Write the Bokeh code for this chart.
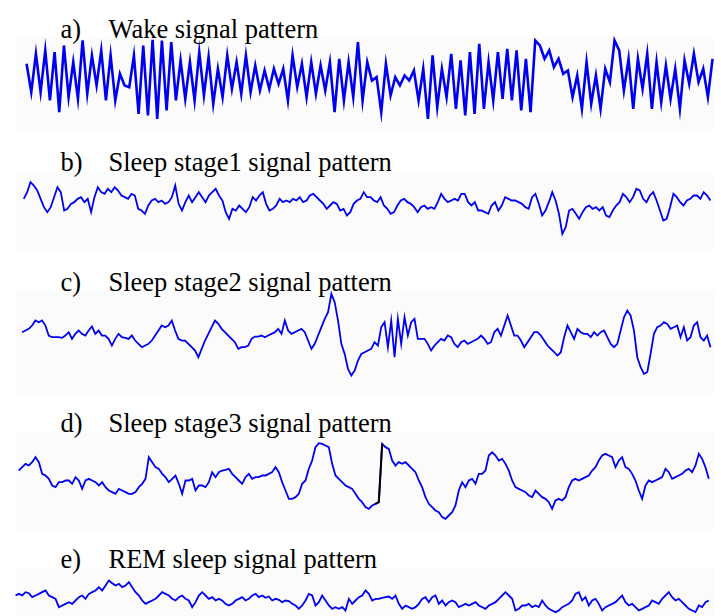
import numpy as np
from bokeh.plotting import figure
from bokeh.models import Range1d
from bokeh.core.properties import value
from bokeh.embed import file_html
from bokeh.resources import INLINE

# ---------------- data (amplitudes, arbitrary uV units) -------------
LETTERS = ["a)", "b)", "c)", "d)", "e)"]
TITLES = ["Wake signal pattern", "Sleep stage1 signal pattern", "Sleep stage2 signal pattern",
          "Sleep stage3 signal pattern", "REM sleep signal pattern"]

# epoch time (s) of first and last sample shown for each trace
T_START = [0.77, 0.65, 0.58, 0.44, 0.30]
T_END = [29.96, 29.87, 29.87, 29.80, 29.80]

WAKE = [45, -40, 75, -40, 85, -65, 80, -100, 100, -55,
        50, -60, 115, -45, 70, -20, 85, -65, 70, -65,
        15, -20, -25, 70, -105, 100, -110, 117, -120, 115,
        -95, 110, -65, 55, -60, 50, -65, 80, -50, 65,
        -75, 30, -55, 70, -30, 50, -45, 70, -40, 40,
        -35, 25, -30, 30, -15, 30, -65, 70, -25, 45,
        -55, 50, -45, 40, -35, 50, -100, 60, -65, 50,
        -55,
        110, -65, 50, -5, 5, -100, 45, -50, 5, -20,
        10, -5, 25, -65, 30, -120, 70, -85, 30, -55,
        75, -90, 55, -110, 80, -105, 105, -90, 50, -65,
        80, -60, 90, -65, 85, -95, 60, -100, 115, 100,
        60, 85, 35, 60, 15, 25, -55, 10, -90, 50,
        -75, 10, -90, 30, -10, 115, 85, -35, 60, -90,
        60, -30, 75, -90, 50, -70, 40, -60, 30, -90,
        55, -15, 75, -10, 30, -55, 60]

STAGE1 = [5, 25, 55, 45, 30, 5, -20, -35, -20, 10,
          40, 25, -30, -25, -10, -5, 5, 10, -5, 5,
          -35, 10, 40, 25, 20, 35, 25, 40, 30, 15,
          10, 5, 20, 15, -25, -30, -40, -15, 0, 5,
          -5, 0, -10, -5, 10, 45, -10, -30, -5, 15,
          -5, 10, 25, 10, -5, 15, 25, 35, 15, 0,
          -35, -55, -25, -30, -15, -25, -35, -20, 10, 0,
          15, 25, -10, -30, -25, -15, 5, -5, 0, -5,
          5, 0, 10, -5, 0, 15, 20, 10, 0, -10,
          -25, -15, -5, -10, -30, -25, -45, -35, -10, 0,
          5,
          25, 10, 10, 0, -5, 10, -15, -25, -40, -35,
          -15, 0, 5, -5, -10, -20, -35, -20, -15, -25,
          -20, -25, -5, 20, 5, -5, 0, 5, 0, 20,
          20, -5, -15, -5, -30, -30, -35, -40, -15, -5,
          -30, -15, 10, 5, 0, 0, -5, -10, -20, -25,
          10, 20, -10, -45, -30, -5, 25, 0, -40, -100,
          -80, -30, -25, -40, -55, -35, -20, -15, -25, -20,
          -30, -20, -45, -50, -30, -15, -5, 20, 10, -5,
          10, 35, 30, 5, -5, 15, 25, 0, -30, -60,
          -55, -20, 20, 10, -5, -15, 0, 5, 15, 15,
          5, 25, 15, 0]

STAGE2 = [15, 20, 25, 35, 50, 45, 50, 35, 5, 0,
          0, 0, -2, 5, 15, -5, 10, 20, 10, 5,
          20, 32, 10, 20, 5, 5, -5, -25, -5, 10,
          0, -2, -5, 5, -10, -20, -30, -25, -20, -10,
          5, 20, 35, 30, 35, 50, 20, -5, -10, -10,
          -20, -30, -40, -60, -35, -10, 10, 30, 50, 40,
          25, 15, 5, -5, -15, -35, -30, -30, -25, -5,
          2, 2, 5, 0, 5, 10, 15, 25, 10, 50,
          20, 10, 15, 20, 25, 15, -10, -35, -20, 5,
          30, 55, 75, 130, 105, 50, -20, -50, -95, -115,
          -100, -70, -50, -45, -40, -35, -15, -25, 30, 45, -30,
          50, -60, 55, -20, 60, 5, 45, 55, -5, -5,
          -5, -20, -40, -25, -15, -5, -10, 5, 0, -20,
          -30, -15, -10, -20, -15, -10, -5, 5, -5, -20,
          -15, 15, 25, 5, 35, 65, 35, 5, 5, -10,
          -30, -15, 0, 15, 15, 5, -10, -25, -35, -45,
          -55, -45, 0, 35, 15, -5, 25, 15, 10, 10,
          0, 15, 5, 15, 20, 0, -20, -30, -20, 20,
          60, 80, 65, 20, -60, -90, -110, -105, -50, 10,
          30, 35, 45, 40, 25, 30, 35, 0, 30, -10,
          0, 35, 45, 0, -10, 5, -30]

STAGE3 = [30, 40, 50, 45, 55, 70, 55, 20, 15, 5,
          -15, -20, -5, -5, 0, 0, -10, 10, 0, -25,
          0, 5, 0, -5, -15, -5, -20, -30, -35, -40,
          -25, -30, -35, -40, -40, -35, -20, -10, 5, 70,
          55, 40, 35, 20, 10, -5, 5, 15, -10, -40,
          0, 0, 5, -30, -15, -15, -20, -5, 25, 10,
          25, 30, 32, 35, 20, 10, 0, -10, 10, 20,
          5, 10, 10, 15, 15, 20, 25, 40, 25, -5,
          -30, -55, -55, -50, -40, -10, 0, 35, 60, 100,
          112, 110, 105, 100, 50, 15, 5, -5, -15, -20,
          -25,
          -40, -55, -65, -80, -85, -75, -70, -65, 110, 100,
          95, 60, 45, 55, 50, 55, 45, 35, 25, 0,
          -20, -50, -70, -80, -90, -95, -110, -115, -105, -95,
          -75, -30, -5, -20, 0, 5, -10, 20, 20, 30,
          75, 85, 75, 60, 65, 50, 30, 0, -20, -25,
          -30, -35, -45, -50, -30, -40, -50, -55, -65, -85,
          -60, -55, -60, -50, -20, 0, 5, 0, 5, 10,
          15, 30, 40, 60, 75, 80, 75, 70, 40, 60,
          70, 40, 35, 20, 0, -30, -55, -15, 0, -5,
          0, 5, 10, 35, 25, 5, 10, 15, 20, 30,
          35, 25, 45, 80, 65, 40, 5]
# samples of STAGE3 drawn in black in the source (pen artefact)
STAGE3_BLACK = (107, 110)

REM = [15, 20, 15, 25, 22, 10, 15, 20, 25, 30,
       15, 10, 5, -20, -15, -10, -5, -10, 0, 10,
       15, 5, 20, 25, 30, 40, 30, 45, 60, 52,
       45, 50, 40, 45, 55, 40, 25, 15, 0, -10,
       -5, 0, 5, 15, 25, 20, 15, 5, 0, 10,
       15, 5, 0, -20, -5, 15, 25, 15, 5, 10,
       0, 5, 0, -10, -15, -10, 0, 5, 10, 0,
       5, 15, 20, 10, 15, 8, 12, 0, 5, 2,
       -5, 0, -2, -10, -15, -25, -15, 0, 20, 15,
       -15, -5, 15, 0, -15, -25, -20, -25, -20, -30,
       5, -10,
       0, 10, 15, 30, 20, 0, 5, 5, 8, 10,
       12, 5, 15, -10, -25, -15, -20, -25, -20, -10,
       5, 10, -5, 10, 15, -10, 0, -15, -5, 0,
       -5, -20, -15, -10, -15, -10, -5, -15, -20, -25,
       -15, -10, -5, 5, 15, 25, 15, 5, -30, -25,
       -15, -15, -10, -20, -15, -20, 0, -15, -25, -30,
       -35, -30, -20, -15, -10, 0, 20, 25, 0, 10,
       -15, 0, 5, -10, -30, -20, -15, -10, -5, 5,
       15, -5, -15, -10, -20, -30, -25, -20, -15, 0,
       -5, -10, 5, 15, 25, 10, 0, 5, -5, -15,
       -25, -30, -35, -15, -20, -5, 0]

TRACES = [WAKE, STAGE1, STAGE2, STAGE3, REM]

# ---------------- layout / style ----------------
W, H = 721, 616
CENTER_Y = [78.3, 200.0, 336.7, 480.0, 600.0]      # page y of each trace's zero line
UV_PER_PX = 3.0
LABEL_BASE_Y = [28.3, 161.5, 281.7, 422.7, 558.5]
LETTER_X, TITLE_X = 60, 108
BG = [(15, 713, 37, 130), (15, 713, 171, 250), (15, 713, 290, 393),
      (15, 713, 432, 530), (15, 713, 568, 616)]
BLUE = "#0000f0"
SERIF = value("Liberation Serif")
PX_TO_T = 30.0 / 705.0     # epoch seconds per page pixel (page x 8 -> 0 s)

p = figure(width=W, height=H, output_backend="svg", toolbar_location=None,
           x_range=Range1d(0, W), y_range=Range1d(H, 0),
           x_axis_type=None, y_axis_type=None, min_border=0,
           outline_line_color=None, background_fill_color="white",
           border_fill_color="white")
p.extra_x_ranges = {"t": Range1d(-8 * PX_TO_T, (W - 8) * PX_TO_T)}

# faint panel backgrounds
for (l, r, t, b) in BG:
    p.quad(left=l, right=r, top=t, bottom=b, fill_color="#fbfbfb", line_color=None)

for i, vals in enumerate(TRACES):
    name = f"amp{i}"
    yc = CENTER_Y[i]
    p.extra_y_ranges[name] = Range1d(-(H - yc) * UV_PER_PX, yc * UV_PER_PX)
    arr = np.asarray(vals, dtype=float)
    t = np.linspace(T_START[i], T_END[i], len(arr))
    p.line(t, arr, x_range_name="t", y_range_name=name, line_color=BLUE,
           line_width=2.6 if i == 0 else 1.8, line_join="miter")
    if i == 3:
        a, b = STAGE3_BLACK
        p.line(t[a:b], arr[a:b], x_range_name="t", y_range_name=name,
               line_color="black", line_width=2)

p.text(x=[LETTER_X] * 5, y=LABEL_BASE_Y, text=LETTERS, text_font=SERIF,
       text_font_size="26.5px", text_baseline="alphabetic", text_color="black")
p.text(x=[TITLE_X] * 5, y=LABEL_BASE_Y, text=TITLES, text_font=SERIF,
       text_font_size="26.5px", text_baseline="alphabetic", text_color="black")

open("out.html", "w").write(file_html(p, INLINE))
